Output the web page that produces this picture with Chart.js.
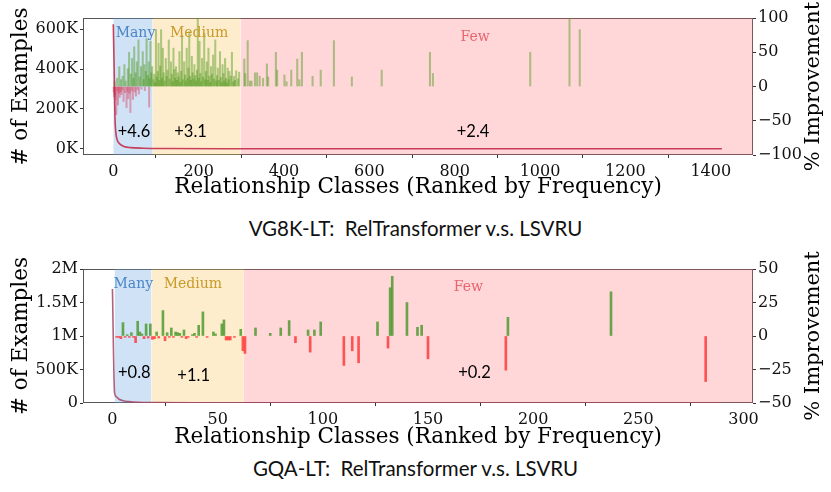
<!DOCTYPE html>
<html>
<head>
<meta charset="utf-8">
<script src="https://cdn.jsdelivr.net/npm/chart.js@4.4.1/dist/chart.umd.min.js"></script>
<style>
  body { margin: 0; background: #fff; width: 831px; height: 492px; position: relative; overflow: hidden; }
  canvas { position: absolute; left: 0; }
  .sub { position: absolute; left: 0; width: 831px; text-align: center; font-family: Lato, "Open Sans", sans-serif; font-size: 20.5px; color: #111; white-space: pre; }
</style>
</head>
<body>
<canvas id="vg" width="831" height="200" style="top:0"></canvas>
<div class="sub" id="vgTitle" style="top:216px"></div>
<canvas id="gqa" width="831" height="200" style="top:250px"></canvas>
<div class="sub" id="gqaTitle" style="top:456px"></div>
<script>
const regionNames = ["Many", "Medium", "Few"];

// VG8K-LT
const vgSubtitle = "VG8K-LT:  RelTransformer v.s. LSVRU";
const vgRegionEdges = [0, 92, 298, 1500];
const vgGains = ["+4.6", "+3.1", "+2.4"];
const vgCountX = [0, 2, 3, 4, 6, 10, 15, 25, 40, 70, 120, 300, 1426];
const vgCountY = [625000, 400000, 250000, 150000, 80000, 40000, 25000, 12000, 6000, 3000, 1500, 500, 0];
const vgClass = [1, 2, 3, 4, 5, 7, 9, 10, 11, 13, 14, 15, 17, 18, 19, 21, 22, 24, 26, 27, 29, 31, 33, 34, 35, 37, 38, 40, 41, 43, 44, 46, 47, 49, 50, 52, 53, 55, 57, 59, 60, 62, 65, 66, 69, 71, 73, 74, 76, 78, 81, 83, 84, 85, 87, 89, 91,
  94, 96, 98, 100, 102, 104, 106, 108, 110, 112, 114, 116, 118, 120, 123, 125, 127, 130, 132, 135, 137, 139, 141, 143, 145, 147, 149, 151, 153, 155, 157, 159, 161, 163, 166, 168, 170, 172, 174, 176, 178, 180, 182, 184, 186, 188, 190, 192, 194, 196, 198, 200, 202, 204, 206, 208, 210, 213, 215, 217, 219, 221, 223, 225, 227, 229, 231, 234, 236, 239, 241, 243, 245, 247, 250, 252, 254, 256, 258, 260, 262, 264, 266, 268, 270, 272, 275, 278, 281, 283, 285, 288, 292, 295,
  307, 309, 315, 320, 324, 332, 337, 343, 351, 360, 363, 381, 384, 401, 406, 417, 431, 436, 442, 467, 486, 517, 559, 629, 742, 749, 977, 1069, 1093];
const vgImprove = [-8, -15, 8, -12, -19, -41, 12, -6, -27, -10, 29, -16, -8, 10, -12, -5, 15, -22, 32, -9, 8, -31, -7, 26, -18, 50, -10, -38, 18, -6, 41, -19, 12, 58, -8, 20, -14, 36, -5, 68, -11, 14, 29, -4, 51, 10, 32, -6, 22, 70, 16, 36, -30, 12, 66, 20, 29,
  10, 18, 6, 83, 14, 22, 63, 9, 30, 83, 12, 56, 20, 8, 41, 15, 24, 68, 11, 36, 18, 7, 56, 25, 12, 29, 9, 20, 14, 51, 6, 22, 75, 10, 36, 17, 8, 56, 12, 27, 80, 15, 9, 44, 20, 11, 32, 16, 8, 24, 100, 12, 66, 19, 7, 41, 14, 78, 10, 22, 36, 9, 56, 15, 6, 29, 18, 46, 11, 68, 8, 16, 27, 9, 51, 13, 6, 32, 19, 8, 41, 12, 5, 27, 10, 22, 15, 50, 7, 15, 9, 23, 11, 21,
  40, 19, 67, 8, 8, 20, 20, 15, 12, 33, 14, 50, 24, 17, 7, 24, 40, 10, 50, 15, 24, 67, 14, 24, 50, 19, 50, 100, 83];
const vgXTicks = [0, 200, 400, 600, 800, 1000, 1200, 1400];
const vgCountTicks = [0, 200000, 400000, 600000];
const vgCountLabels = ["0K", "200K", "400K", "600K"];
const vgImpTicks = [-100, -50, 0, 50, 100];

// GQA-LT
const gqaSubtitle = "GQA-LT:  RelTransformer v.s. LSVRU";
const gqaRegionEdges = [1, 18.5, 62.5, 310];
const gqaGains = ["+0.8", "+1.1", "+0.2"];
const gqaCountX = [0, 1, 2, 3, 5, 8, 12, 20, 40, 100, 289];
const gqaCountY = [1700000, 150000, 90000, 60000, 35000, 20000, 10000, 5000, 2000, 1000, 0];
const gqaClass = [2, 3, 4, 5, 6, 7, 8, 9, 10, 11, 12, 13, 14, 15, 16, 17, 18,
  19, 20, 21, 22, 24, 25, 26, 27, 28, 29, 30, 31, 32, 33, 34, 35, 36, 38, 39, 40, 41, 43, 45, 48, 49, 52, 53, 54, 55, 56, 58, 61, 62, 63,
  68, 75, 80, 84, 87, 93, 94, 96, 99, 110, 114, 117, 126, 131, 132, 133, 140, 145, 147, 150, 187, 188, 237, 282];
const gqaImprove = [-1, -1, -2, 10, -1, 1, -1, 2.5, -1, -5, 11, 3, 1.5, -2, 9, -1.5, 9,
  -2.5, -2, 3, -1.5, 19, -3.5, 2.5, -1, 6, -1, 3, 2.5, 2, -1, 4.5, -2, -1, 1, 2, -1, 8, 18, -1, 3, 1.5, 9, 12, -3, -3, -3, -1, 5, -11, -13,
  6, 2, 6, 11.5, -5, 4.5, -12, 4.5, 10.5, -22, -11, -20, 10.5, -9, 36, 44.5, 25, 6.5, 8, -17, -25.5, 14, 33, -34];
const gqaXTicks = [0, 50, 100, 150, 200, 250, 300];
const gqaCountTicks = [0, 500000, 1000000, 1500000, 2000000];
const gqaCountLabels = ["0", "500K", "1M", "1.5M", "2M"];
const gqaImpTicks = [-50, -25, 0, 25, 50];

const serif = "'DejaVu Serif', serif";
const bandColors = ["rgba(110,165,225,0.32)", "rgba(250,195,90,0.3)", "rgba(255,95,105,0.25)"];
const nameColors = ["#4a86c8", "#c89a28", "#e8666f"];

function minusLabel(v) {
  return v < 0 ? "\u2212" + Math.abs(v) : String(v);
}

function buildChart(id, d) {
  const impMin = d.impTicks[0];
  const impMax = d.impTicks[d.impTicks.length - 1];

  const bands = d.edges.slice(0, -1).map((start, i) => ({
    type: "line",
    data: [{ x: start, y: impMax }, { x: d.edges[i + 1], y: impMax }],
    yAxisID: "y2",
    fill: "start",
    backgroundColor: bandColors[i],
    borderWidth: 0,
    pointRadius: 0,
    order: 10
  }));

  const bars = {
    type: "bar",
    data: d.cls.map((c, i) => ({ x: c, y: d.imp[i] })),
    yAxisID: "y2",
    backgroundColor: ctx => (ctx.raw && ctx.raw.y < 0) ? d.negColor : d.posColor,
    barThickness: d.barW,
    grouped: false,
    order: 5
  };

  const curve = {
    type: "line",
    data: d.countX.map((x, i) => ({ x: x, y: d.countY[i] })),
    yAxisID: "y",
    borderColor: d.curveColor,
    borderWidth: 1.6,
    pointRadius: 0,
    fill: false,
    cubicInterpolationMode: "monotone",
    order: 1
  };

  const tickGrid = { display: true, drawOnChartArea: false, tickLength: 3, color: "#333", tickColor: "#333" };

  const decor = {
    id: "decor" + id,
    beforeDatasetsDraw(chart) {
      const { ctx, chartArea: a } = chart;
      ctx.save();
      ctx.strokeStyle = "#555";
      ctx.lineWidth = 1;
      ctx.strokeRect(a.left + 0.5, a.top + 0.5, a.right - a.left - 1, a.bottom - a.top - 1);
      ctx.restore();
    },
    afterDraw(chart) {
      const { ctx, chartArea: a, scales } = chart;
      ctx.save();
      // right axis title, read bottom to top
      ctx.translate(814, (a.top + a.bottom) / 2);
      ctx.rotate(-Math.PI / 2);
      ctx.font = "21px " + serif;
      ctx.fillStyle = "#000";
      ctx.textAlign = "center";
      ctx.textBaseline = "middle";
      ctx.fillText("% Improvement", 0, 0);
      ctx.restore();

      ctx.save();
      ctx.textAlign = "center";
      ctx.textBaseline = "alphabetic";
      ctx.font = "14px " + serif;
      regionNames.forEach((name, i) => {
        ctx.fillStyle = nameColors[i];
        ctx.fillText(name, scales.x.getPixelForValue(d.namePos[i][0]), scales.y2.getPixelForValue(d.namePos[i][1]));
      });
      ctx.font = "16.5px Lato, 'Open Sans', sans-serif";
      ctx.fillStyle = "#000";
      d.gains.forEach((g, i) => {
        ctx.fillText(g, scales.x.getPixelForValue(d.gainPos[i][0]), scales.y2.getPixelForValue(d.gainPos[i][1]));
      });
      ctx.restore();
    }
  };

  return new Chart(document.getElementById(id), {
    type: "bar",
    data: { datasets: [...bands, bars, curve] },
    options: {
      responsive: false,
      animation: false,
      layout: { padding: { top: d.padTop, left: 0, right: 0, bottom: 0 } },
      plugins: { legend: { display: false }, tooltip: { enabled: false } },
      scales: {
        x: {
          type: "linear",
          min: d.xMin,
          max: d.xMax,
          offset: false,
          afterBuildTicks: s => { s.ticks = d.xTicks.map(v => ({ value: v })); },
          afterFit: s => { s.height = d.xHeight; },
          ticks: { font: { family: serif, size: 16 }, color: "#111", padding: 4, maxRotation: 0, autoSkip: false, callback: v => String(v) },
          grid: tickGrid,
          border: { display: false },
          title: { display: true, text: "Relationship Classes (Ranked by Frequency)", font: { family: serif, size: 21.5 }, color: "#000", padding: { top: 0, bottom: 0 } }
        },
        y: {
          position: "left",
          min: d.countMin,
          max: d.countMax,
          afterBuildTicks: s => { s.ticks = d.countTicks.map(v => ({ value: v })); },
          afterFit: s => { s.width = 83; },
          ticks: { font: { family: serif, size: 16 }, color: "#111", padding: 2, autoSkip: false, callback: (v, i) => d.countLabels[i] },
          grid: tickGrid,
          border: { display: false },
          title: { display: true, text: "# of Examples", font: { family: serif, size: 21.5 }, color: "#000", padding: { top: 9, bottom: 0 } }
        },
        y2: {
          position: "right",
          min: impMin,
          max: impMax,
          afterBuildTicks: s => { s.ticks = d.impTicks.map(v => ({ value: v })); },
          afterFit: s => { s.width = 78; },
          ticks: { font: { family: serif, size: 16 }, color: "#111", padding: 2, autoSkip: false, callback: v => minusLabel(v) },
          grid: tickGrid,
          border: { display: false }
        }
      }
    },
    plugins: [decor]
  });
}

document.getElementById("vgTitle").textContent = vgSubtitle;
document.getElementById("gqaTitle").textContent = gqaSubtitle;

buildChart("vg", {
  edges: vgRegionEdges, gains: vgGains,
  countX: vgCountX, countY: vgCountY, cls: vgClass, imp: vgImprove,
  xTicks: vgXTicks, countTicks: vgCountTicks, countLabels: vgCountLabels, impTicks: vgImpTicks,
  xMin: -71, xMax: 1499, countMin: -31000, countMax: 656000,
  padTop: 18, xHeight: 45, barW: 1.4,
  posColor: "rgba(75,150,25,0.45)", negColor: "rgba(215,50,80,0.4)", curveColor: "rgba(195,45,75,0.9)",
  namePos: [[52, 72], [201, 72], [848, 66]],
  gainPos: [[48.5, -74], [181, -74], [843, -73]]
});

buildChart("gqa", {
  edges: gqaRegionEdges, gains: gqaGains,
  countX: gqaCountX, countY: gqaCountY, cls: gqaClass, imp: gqaImprove,
  xTicks: gqaXTicks, countTicks: gqaCountTicks, countLabels: gqaCountLabels, impTicks: gqaImpTicks,
  xMin: -14, xMax: 304.5, countMin: 0, countMax: 2000000,
  padTop: 19, xHeight: 47, barW: 2,
  posColor: "rgba(70,150,40,0.8)", negColor: "rgba(255,50,50,0.8)", curveColor: "rgba(165,70,100,0.85)",
  namePos: [[9.9, 35.8], [38.2, 35.8], [169.2, 33.7]],
  gainPos: [[10.4, -31.7], [38.6, -33.7], [172.1, -31.3]]
});
</script>
</body>
</html>
